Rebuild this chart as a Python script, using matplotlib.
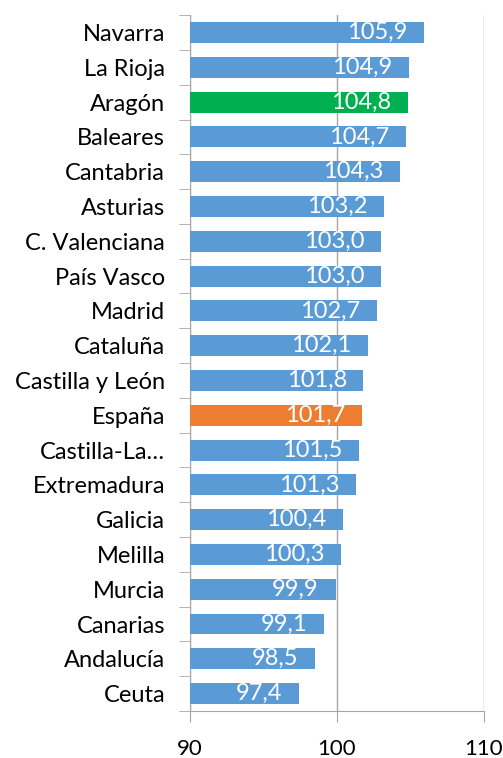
import numpy as np
import matplotlib.pyplot as plt

plt.rcParams['font.family'] = ['Lato', 'DejaVu Sans']

regiones = ['Navarra', 'La Rioja', 'Aragón', 'Baleares', 'Cantabria', 'Asturias',
            'C. Valenciana', 'País Vasco', 'Madrid', 'Cataluña', 'Castilla y León',
            'España', 'Castilla-La…', 'Extremadura', 'Galicia', 'Melilla', 'Murcia',
            'Canarias', 'Andalucía', 'Ceuta']
valores = [105.9, 104.9, 104.8, 104.7, 104.3, 103.2, 103.0, 103.0, 102.7, 102.1,
           101.8, 101.7, 101.5, 101.3, 100.4, 100.3, 99.9, 99.1, 98.5, 97.4]

azul = '#5B9BD5'
colores = [azul] * len(regiones)
colores[regiones.index('Aragón')] = '#00B050'
colores[regiones.index('España')] = '#ED7D31'

fig = plt.figure(figsize=(5.03, 7.58), dpi=100)
ax = fig.add_axes([0.378, 0.062, 0.584, 0.918])

y = np.arange(len(regiones))[::-1]
base = 90
ax.barh(y, np.array(valores) - base, left=base, height=0.6, color=colores, zorder=3)

for yi, v in zip(y, valores):
    ax.annotate(f'{v:.1f}'.replace('.', ','), (v, yi), xytext=(-12, 0),
                textcoords='offset points', ha='right', va='center',
                color='white', fontsize=17, zorder=4)

ax.set_xlim(90, 110)
ax.set_ylim(-0.5, len(regiones) - 0.5)
ax.set_xticks([90, 100, 110])
ax.set_xticklabels(['90', '100', '110'], fontsize=16)
ax.set_yticks(y)
ax.set_yticklabels(regiones, fontsize=17)
ax.set_yticks(np.arange(len(regiones) + 1) - 0.5, minor=True)

ax.tick_params(axis='y', which='major', length=0, pad=18)
ax.tick_params(axis='y', which='minor', length=8, color='#A6A6A6')
ax.tick_params(axis='x', length=8, color='#A6A6A6', pad=12)

ax.grid(axis='x', color='#A6A6A6', linewidth=1, zorder=0)
for s in ['top', 'right']:
    ax.spines[s].set_visible(False)
for s in ['left', 'bottom']:
    ax.spines[s].set_color('#A6A6A6')

fig.savefig('out.png', dpi=100)
